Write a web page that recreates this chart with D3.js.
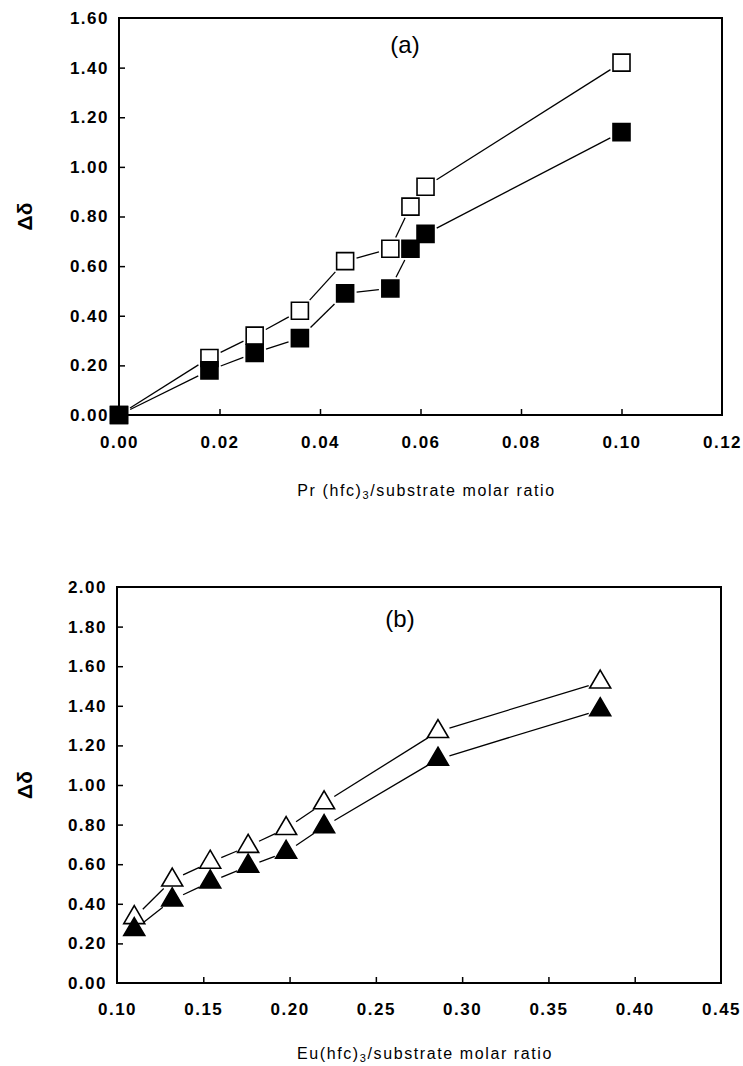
<!DOCTYPE html>
<html>
<head>
<meta charset="utf-8">
<script src="https://cdn.jsdelivr.net/npm/d3@7"></script>
<style>
  body { margin: 0; background: #fff; }
  svg text { font-family: "Liberation Sans", Arial, sans-serif; fill: #000; }
</style>
</head>
<body>
<svg id="chart" width="743" height="1066"></svg>
<script>
// panel (a): Pr(hfc)3
const ratioA = [0, 0.018, 0.027, 0.036, 0.045, 0.054, 0.058, 0.061, 0.100];
const openA = [0, 0.23, 0.32, 0.42, 0.62, 0.67, 0.84, 0.92, 1.42];
const filledA = [0, 0.18, 0.25, 0.31, 0.49, 0.51, 0.67, 0.73, 1.14];
const xTicksA = [0, 0.02, 0.04, 0.06, 0.08, 0.10, 0.12];
const yTicksA = [0, 0.2, 0.4, 0.6, 0.8, 1.0, 1.2, 1.4, 1.6];

// panel (b): Eu(hfc)3
const ratioB = [0.110, 0.132, 0.154, 0.176, 0.198, 0.220, 0.286, 0.380];
const openB = [0.33, 0.52, 0.61, 0.69, 0.78, 0.91, 1.27, 1.52];
const filledB = [0.27, 0.42, 0.51, 0.59, 0.66, 0.79, 1.13, 1.38];
const xTicksB = [0.10, 0.15, 0.20, 0.25, 0.30, 0.35, 0.40, 0.45];
const yTicksB = [0, 0.2, 0.4, 0.6, 0.8, 1.0, 1.2, 1.4, 1.6, 1.8, 2.0];

const svg = d3.select("#chart");

// marker outlines, relative to the point
const squarePath = (h) => `M${-h},${-h}H${h}V${h}H${-h}Z`;
const trianglePath = (w, h) =>
  `M0,${-h * 2 / 3}L${w / 2},${h / 3}L${-w / 2},${h / 3}Z`;

const drawPanel = (opt) => {
  const { left, right, top, bottom } = opt.box;
  const x = d3.scaleLinear().domain(opt.xDomain).range([left, right]);
  const y = d3.scaleLinear().domain(opt.yDomain).range([bottom, top]);
  const g = svg.append("g");

  // axes, ticks pointing inward
  const ya = g.append("g")
    .attr("transform", `translate(${left},0)`)
    .call(d3.axisLeft(y).tickValues(opt.yTicks).tickSize(-6).tickPadding(10)
      .tickFormat(d3.format(".2f")));
  const xa = g.append("g")
    .attr("transform", `translate(0,${bottom})`)
    .call(d3.axisBottom(x).tickValues(opt.xTicks).tickSize(-6).tickPadding(opt.xPad)
      .tickFormat(d3.format(".2f")));
  [ya, xa].forEach((a) => {
    a.select(".domain").remove();
    a.selectAll(".tick line").attr("stroke", "#000").attr("stroke-width", 1.5)
      .filter((d, i, n) => i === 0 || i === n.length - 1).remove();
    a.selectAll(".tick text")
      .style("font-size", "17px").style("font-weight", "bold")
      .style("letter-spacing", "1.5px");
  });

  g.append("rect")
    .attr("x", left).attr("y", top)
    .attr("width", right - left).attr("height", bottom - top)
    .attr("fill", "none").attr("stroke", "#000").attr("stroke-width", 2);

  // series lines, stopping a little short of each marker
  const gap = opt.gap;
  opt.series.forEach((s) => {
    const pts = opt.xs.map((v, i) => [x(v), y(s.values[i])]);
    for (let i = 0; i < pts.length - 1; i++) {
      const p = pts[i], q = pts[i + 1];
      const dx = q[0] - p[0], dy = q[1] - p[1];
      const len = Math.hypot(dx, dy);
      const ux = dx / len, uy = dy / len;
      const r = gap(ux, uy);
      if (len <= r * 2) continue;
      g.append("line")
        .attr("x1", p[0] + ux * r).attr("y1", p[1] + uy * r)
        .attr("x2", q[0] - ux * r).attr("y2", q[1] - uy * r)
        .attr("stroke", "#000").attr("stroke-width", 1.3);
    }
  });

  opt.series.forEach((s) => {
    g.append("g").selectAll("path")
      .data(opt.xs.map((v, i) => [v, s.values[i]]))
      .join("path")
      .attr("transform", (d) => `translate(${x(d[0])},${y(d[1])})`)
      .attr("d", opt.marker)
      .attr("fill", s.fill)
      .attr("stroke", "#000")
      .attr("stroke-width", 1.6);
  });

  g.append("text")
    .attr("x", opt.tag[0]).attr("y", opt.tag[1])
    .attr("text-anchor", "middle").attr("dominant-baseline", "central")
    .style("font-size", "24px")
    .text(opt.tagText);

  g.append("text")
    .attr("transform", `translate(24,${(top + bottom) / 2})rotate(-90)`)
    .attr("text-anchor", "middle").attr("dominant-baseline", "central")
    .style("font-size", "21px").style("font-weight", "bold")
    .text("Δδ");

  const lab = g.append("text")
    .attr("x", (left + right) / 2 + 6).attr("y", opt.labelY)
    .attr("text-anchor", "middle")
    .style("font-size", "16px").style("letter-spacing", "1.6px");
  lab.append("tspan").text(opt.label[0]);
  lab.append("tspan").attr("dy", 3).style("font-size", "11px").text("3");
  lab.append("tspan").attr("dy", -3).text(opt.label[1]);
};

const squareGap = (ux, uy) => 8.5 / Math.max(Math.abs(ux), Math.abs(uy)) + 3;
const triGap = () => 12;

drawPanel({
  box: { left: 119, right: 722, top: 18, bottom: 415 },
  xDomain: [0, 0.12], yDomain: [0, 1.6],
  xTicks: xTicksA, yTicks: yTicksA, xPad: 21,
  xs: ratioA,
  series: [{ values: openA, fill: "#fff" }, { values: filledA, fill: "#000" }],
  marker: squarePath(8.5), gap: squareGap,
  tag: [405, 44], tagText: "(a)",
  labelY: 496, label: ["Pr (hfc)", "/substrate molar ratio"],
});

drawPanel({
  box: { left: 117, right: 721, top: 587, bottom: 983 },
  xDomain: [0.10, 0.45], yDomain: [0, 2.0],
  xTicks: xTicksB, yTicks: yTicksB, xPad: 20,
  xs: ratioB,
  series: [{ values: openB, fill: "#fff" }, { values: filledB, fill: "#000" }],
  marker: trianglePath(21, 18), gap: triGap,
  tag: [400, 618], tagText: "(b)",
  labelY: 1059, label: ["Eu(hfc)", "/substrate molar ratio"],
});
</script>
</body>
</html>
